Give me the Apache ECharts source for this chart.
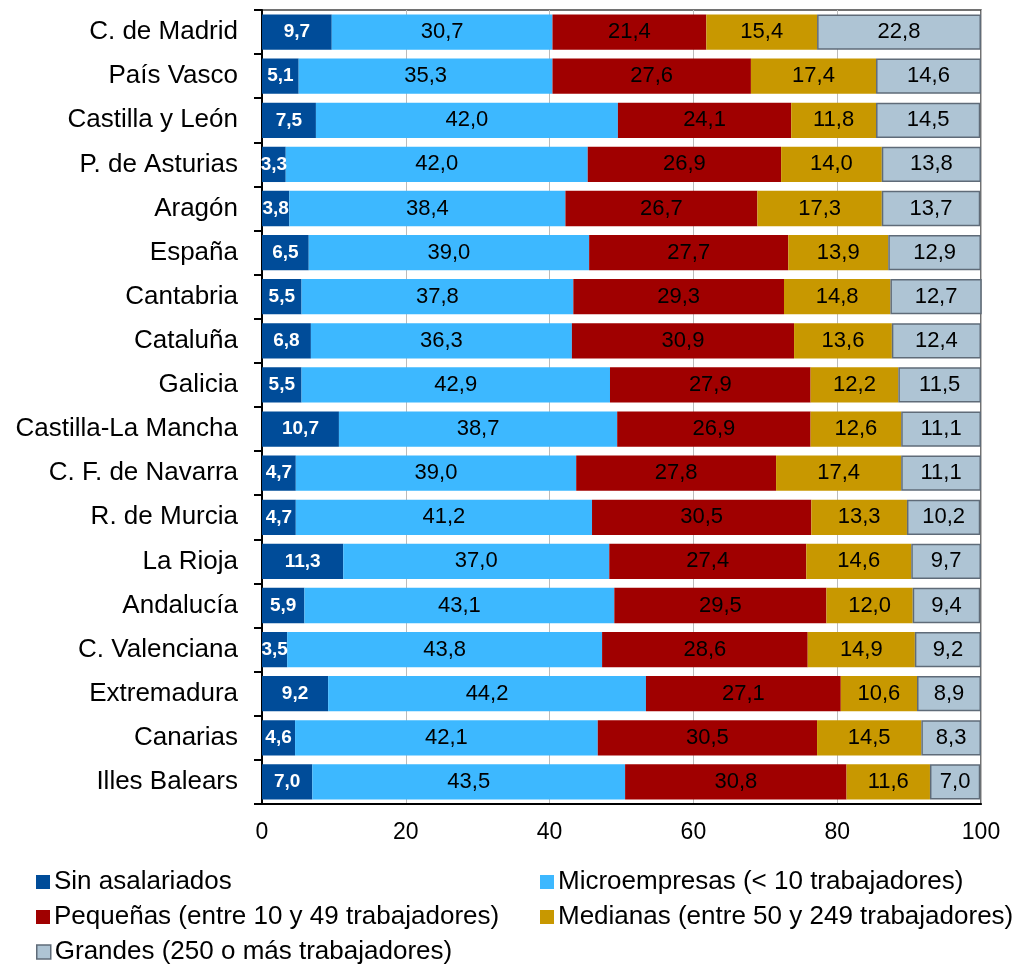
<!DOCTYPE html>
<html>
<head>
<meta charset="utf-8">
<style>
  html, body { margin: 0; padding: 0; background: #fff; }
  #chart { width: 1026px; height: 965px; }
</style>
</head>
<body>
<div id="chart"></div>
<script src="https://cdn.jsdelivr.net/npm/echarts@6/dist/echarts.min.js"></script>
<script>
var regiones = ['C. de Madrid', 'País Vasco', 'Castilla y León', 'P. de Asturias', 'Aragón', 'España',
  'Cantabria', 'Cataluña', 'Galicia', 'Castilla-La Mancha', 'C. F. de Navarra', 'R. de Murcia',
  'La Rioja', 'Andalucía', 'C. Valenciana', 'Extremadura', 'Canarias', 'Illes Balears'];

var sinAsalariados = [9.7, 5.1, 7.5, 3.3, 3.8, 6.5, 5.5, 6.8, 5.5, 10.7, 4.7, 4.7, 11.3, 5.9, 3.5, 9.2, 4.6, 7.0];
var microempresas  = [30.7, 35.3, 42.0, 42.0, 38.4, 39.0, 37.8, 36.3, 42.9, 38.7, 39.0, 41.2, 37.0, 43.1, 43.8, 44.2, 42.1, 43.5];
var pequenas       = [21.4, 27.6, 24.1, 26.9, 26.7, 27.7, 29.3, 30.9, 27.9, 26.9, 27.8, 30.5, 27.4, 29.5, 28.6, 27.1, 30.5, 30.8];
var medianas       = [15.4, 17.4, 11.8, 14.0, 17.3, 13.9, 14.8, 13.6, 12.2, 12.6, 17.4, 13.3, 14.6, 12.0, 14.9, 10.6, 14.5, 11.6];
var grandes        = [22.8, 14.6, 14.5, 13.8, 13.7, 12.9, 12.7, 12.4, 11.5, 11.1, 11.1, 10.2, 9.7, 9.4, 9.2, 8.9, 8.3, 7.0];

var nombres = ['Sin asalariados', 'Microempresas (< 10 trabajadores)', 'Pequeñas (entre 10 y 49 trabajadores)',
  'Medianas (entre 50 y 249 trabajadores)', 'Grandes (250 o más trabajadores)'];
var colores = ['#004C99', '#3DB8FF', '#A00000', '#C89800', '#AEC4D4'];
var valores = [sinAsalariados, microempresas, pequenas, medianas, grandes];

var fuente = 'Arial, Liberation Sans, sans-serif';

function coma(p) { return p.value.toFixed(1).replace('.', ','); }

var series = valores.map(function (d, i) {
  return {
    name: nombres[i],
    type: 'bar',
    stack: 'total',
    barCategoryGap: '20%',
    data: d,
    itemStyle: {
      color: colores[i],
      borderColor: i === 4 ? '#5F6B78' : colores[i],
      borderWidth: i === 4 ? 1.5 : 0
    },
    label: {
      show: true,
      position: 'inside',
      formatter: coma,
      fontFamily: fuente,
      fontSize: i === 0 ? 19 : 22,
      fontWeight: i === 0 ? 'bold' : 'normal',
      color: i === 0 ? '#fff' : '#000'
    },
    emphasis: { disabled: true }
  };
});

// leyenda en dos columnas
var posLeyenda = [[36, 869], [540, 869], [36, 904], [540, 904], [36, 939]];
var leyendas = nombres.map(function (n, i) {
  return {
    data: [{ name: n, itemStyle: { borderColor: i === 4 ? '#5F6B78' : colores[i], borderWidth: i === 4 ? 1.5 : 0 } }],
    left: posLeyenda[i][0],
    top: posLeyenda[i][1],
    padding: 0,
    icon: 'rect',
    itemWidth: 14,
    itemHeight: 14,
    selectedMode: false,
    textStyle: { fontFamily: fuente, fontSize: 26, color: '#000', padding: [0, 0, 0, -1] }
  };
});

var chart = echarts.init(document.getElementById('chart'));
chart.setOption({
  animation: false,
  backgroundColor: '#fff',
  legend: leyendas,
  grid: { left: 262, right: 45, top: 10, bottom: 161, show: true, borderColor: '#444', borderWidth: 1.5 },
  xAxis: {
    type: 'value',
    min: 0,
    max: 100,
    interval: 20,
    axisLine: { show: true, lineStyle: { color: '#000', width: 2 } },
    axisTick: { show: false },
    splitLine: { show: true, lineStyle: { color: '#BBBBBB', width: 1 } },
    axisLabel: { fontFamily: fuente, fontSize: 23, color: '#000', margin: 17 }
  },
  yAxis: {
    type: 'category',
    inverse: true,
    data: regiones,
    axisLine: { show: true, lineStyle: { color: '#000', width: 2 } },
    axisTick: { show: true, length: 8, inside: false, lineStyle: { color: '#000', width: 2 } },
    axisLabel: { fontFamily: fuente, fontSize: 26, color: '#000', margin: 24 }
  },
  series: series
});
</script>
</body>
</html>
